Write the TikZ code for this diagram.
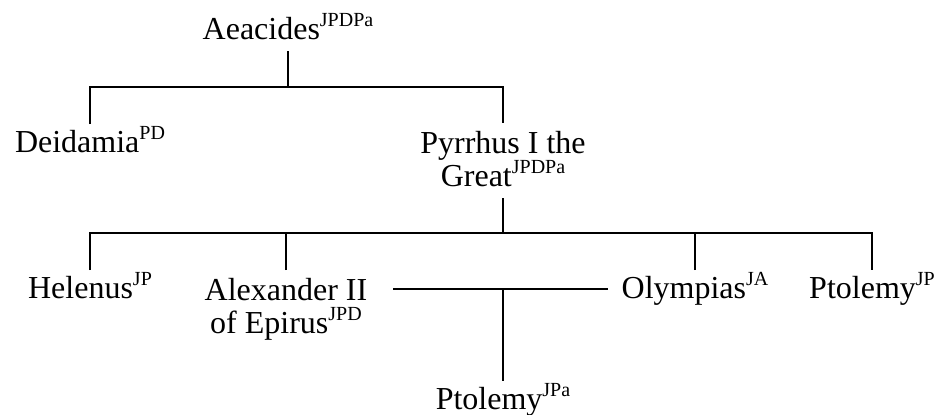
\documentclass[tikz,border=0pt]{standalone}
\usepackage{fontspec}
\setmainfont{Liberation Serif}
\newcommand{\refs}[1]{\raisebox{6.5pt}{\fontsize{10}{11}\selectfont #1}}
\newcommand{\twolines}[2]{\vbox{\offinterlineskip\halign{\hfil##\hfil\cr
  \rule[-4pt]{0pt}{18pt}#1\cr\rule[-5pt]{0pt}{17.5pt}#2\cr}}}

\begin{document}
\begin{tikzpicture}[x=0.5pt,y=-0.5pt,line width=1pt]
\tikzset{every node/.style={inner sep=0.5pt,anchor=north,font=\fontsize{16}{17}\selectfont}}
\useasboundingbox (0,0) rectangle (940,414);
\coordinate (b1) at (0,87);
\coordinate (b2) at (0,233);
\coordinate (wed) at (503,289);
\node (aea) at (288,11) {Aeacides\refs{JPDPa}\strut};
\node (dei) at (90,124) {Deidamia\refs{PD}};
\node (pyr) at (503,123) {\twolines{Pyrrhus I the}{Great\smash{\refs{JPDPa}}}};
\node (hel) at (90,270) {Helenus\refs{JP}};
\node (alex) at (286,270) {\twolines{Alexander II}{of Epirus\smash{\refs{JPD}}}};
\node (oly) at (695,270) {Olympias\refs{JA}};
\node (pto) at (872,270) {Ptolemy\refs{JP}};
\node (ptc) at (503,381) {Ptolemy\refs{JPa}};
\draw (aea.south) -- (aea.south |- b1);
\draw (dei.north) |- (pyr.north |- b1) -- (pyr.north);
\draw (pyr.south) -- (pyr.south |- b2);
\draw (hel.north) |- (pto.north |- b2) -- (pto.north);
\draw (alex.north) -- (alex.north |- b2);
\draw (oly.north) -- (oly.north |- b2);
\draw [shorten <=12pt,shorten >=6pt] (alex.east |- wed) -- (oly.west |- wed);
\draw (wed) -- (ptc.north);
\end{tikzpicture}
\end{document}
